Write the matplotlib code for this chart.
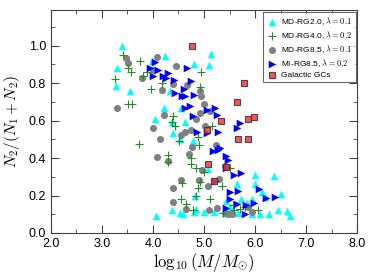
import matplotlib
matplotlib.use("Agg")
import matplotlib.pyplot as plt
from matplotlib.ticker import MultipleLocator, FormatStrFormatter

plt.rcParams["font.family"] = ["Liberation Sans", "DejaVu Sans"]
plt.rcParams["mathtext.fontset"] = "cm"

# MD-RG2.0 (cyan triangles)
rg2_x = [3.40, 3.30, 3.28, 3.55, 3.98, 4.23, 4.81, 5.14, 5.10, 4.33, 4.22, 4.04, 4.37, 4.39,
         4.63, 4.55, 4.79, 4.52, 5.07, 4.82, 4.85, 4.81, 4.99, 5.19, 4.38, 4.53, 4.58, 4.05,
         5.41, 5.65, 5.73, 5.84, 5.94, 6.00, 6.00, 6.13, 6.20, 6.37, 6.51, 6.44, 6.63, 6.68,
         6.10, 6.28, 5.94, 5.67, 5.51, 5.44]
rg2_y = [1.00, 0.88, 0.785, 0.76, 0.92, 0.945, 0.90, 0.955, 0.895, 0.76, 0.665, 0.61, 0.595, 0.535,
         0.59, 0.665, 0.49, 0.50, 0.34, 0.20, 0.13, 0.11, 0.11, 0.11, 0.12, 0.105, 0.10, 0.09,
         0.105, 0.26, 0.18, 0.16, 0.18, 0.31, 0.26, 0.22, 0.19, 0.305, 0.21, 0.12, 0.115, 0.09,
         0.10, 0.10, 0.10, 0.105, 0.14, 0.17]

# MD-RG4.0 (green plus)
rg4_x = [3.41, 3.25, 3.51, 3.57, 3.74, 3.81, 3.96, 4.17, 3.88, 3.51, 3.59, 3.72, 4.95, 4.92,
         4.40, 4.43, 4.37, 4.51, 4.29, 4.29, 4.75, 4.74, 4.85, 4.91, 4.89, 4.99, 4.92, 4.89,
         4.85, 4.56, 4.55, 4.64, 4.79, 5.12, 5.35, 5.51, 5.15, 5.59, 5.71, 5.80, 6.06, 5.37, 5.56]
rg4_y = [0.95, 0.82, 0.88, 0.86, 0.92, 0.84, 0.77, 0.80, 0.86, 0.69, 0.69, 0.475, 0.86, 0.78,
         0.625, 0.57, 0.59, 0.49, 0.415, 0.38, 0.40, 0.37, 0.345, 0.47, 0.515, 0.325, 0.27, 0.24,
         0.195, 0.265, 0.18, 0.155, 0.12, 0.18, 0.25, 0.345, 0.57, 0.125, 0.13, 0.14, 0.12, 0.105, 0.15]

# MD-RG8.5 (gray circles)
rg85_x = [3.47, 3.52, 3.29, 3.78, 4.07, 4.00, 4.45, 4.40, 4.17, 4.22, 4.00, 4.14, 4.07, 4.29,
          4.66, 4.92, 4.95, 4.99, 4.92, 4.85, 4.75, 4.62, 4.55, 4.77, 4.70, 5.02, 5.11, 5.24,
          5.41, 4.96, 4.90, 5.07, 5.30, 4.55, 4.40, 4.40, 4.65, 5.10, 5.25, 5.41, 5.54, 5.47,
          5.87, 5.94]
rg85_y = [0.935, 0.905, 0.665, 0.825, 0.94, 0.87, 0.89, 0.795, 0.765, 0.63, 0.56, 0.50, 0.405, 0.385,
          0.79, 0.76, 0.73, 0.69, 0.64, 0.61, 0.55, 0.54, 0.525, 0.46, 0.42, 0.57, 0.65, 0.47,
          0.36, 0.335, 0.285, 0.25, 0.29, 0.285, 0.24, 0.165, 0.13, 0.12, 0.135, 0.105, 0.10, 0.10,
          0.14, 0.11]

# MI-RG8.5 (blue right triangles)
mi_x = [4.04, 3.94, 4.00, 4.09, 4.20, 4.30, 4.26, 4.41, 4.67, 4.74, 4.44, 4.60, 4.56, 4.63,
        4.81, 4.62, 4.73, 5.05, 5.22, 5.25, 5.28, 4.86, 5.05, 4.78, 5.64, 5.71, 5.18, 5.28,
        5.31, 5.44, 5.46, 5.59, 5.72, 5.44, 5.22, 5.51, 5.66, 5.50, 5.65, 5.82, 5.98, 6.08,
        6.21, 6.39, 5.44, 5.80]
mi_y = [0.915, 0.88, 0.84, 0.87, 0.84, 0.855, 0.83, 0.815, 0.88, 0.81, 0.745, 0.77, 0.73, 0.73,
        0.735, 0.665, 0.68, 0.655, 0.665, 0.63, 0.54, 0.54, 0.535, 0.625, 0.56, 0.585, 0.435, 0.445,
        0.455, 0.41, 0.39, 0.31, 0.32, 0.345, 0.275, 0.22, 0.225, 0.18, 0.155, 0.15, 0.16, 0.235,
        0.185, 0.19, 0.135, 0.10]

# Galactic GCs (red squares)
gc_x = [4.76, 5.78, 5.64, 5.33, 5.87, 5.97, 5.05, 5.67, 5.87, 5.08, 5.44, 5.19]
gc_y = [1.00, 0.80, 0.70, 0.60, 0.61, 0.62, 0.55, 0.50, 0.50, 0.37, 0.35, 0.28]

labels = [r"MD-RG2.0, $\lambda=0.1$", r"MD-RG4.0, $\lambda=0.2$",
          r"MD-RG8.5, $\lambda=0.1$", r"MI-RG8.5, $\lambda=0.2$", "Galactic GCs"]

fig = plt.figure(figsize=(3.74, 2.80), dpi=100)
ax = fig.add_axes([0.136, 0.168, 0.819, 0.796])

ax.scatter(rg2_x, rg2_y, marker="^", s=30, color="#00ffff", linewidths=0, label=labels[0], zorder=2)
ax.scatter(rg4_x, rg4_y, marker="+", s=30, color="#228b22", linewidths=0.8, label=labels[1], zorder=3)
ax.scatter(rg85_x, rg85_y, marker="o", s=26, color="#808080", linewidths=0, label=labels[2], zorder=2)
ax.scatter(mi_x, mi_y, marker=">", s=30, color="#0000ff", linewidths=0, label=labels[3], zorder=3)
ax.scatter(gc_x, gc_y, marker="s", s=22, color="#ff3333", alpha=0.85, edgecolors="#333333",
           linewidths=0.8, label=labels[4], zorder=4)

ax.set_xlim(2.0, 8.0)
ax.set_ylim(0.0, 1.19)
ax.xaxis.set_major_locator(MultipleLocator(1.0))
ax.xaxis.set_minor_locator(MultipleLocator(0.5))
ax.yaxis.set_major_locator(MultipleLocator(0.2))
ax.yaxis.set_minor_locator(MultipleLocator(0.1))
ax.xaxis.set_major_formatter(FormatStrFormatter("%.1f"))
ax.yaxis.set_major_formatter(FormatStrFormatter("%.1f"))
ax.tick_params(which="both", direction="in", top=True, right=True, labelsize=9, color="#444444")
ax.tick_params(which="major", length=6)
ax.tick_params(which="minor", length=3)
for sp in ax.spines.values():
    sp.set_color("#444444")
    sp.set_linewidth(0.8)

ax.set_xlabel(r"$\log_{10}(M/M_{\odot})$", fontsize=12, labelpad=1)
ax.set_ylabel(r"$N_2/(N_1+N_2)$", fontsize=11, labelpad=5)

leg = ax.legend(loc="upper right", fontsize=6, frameon=True, fancybox=False, borderpad=0.4,
                labelspacing=0.25, handletextpad=0.3, handlelength=1.5, borderaxespad=0.2,
                scatterpoints=1)
leg.get_frame().set_edgecolor("#444444")
leg.get_frame().set_linewidth(0.8)

fig.savefig("out.png", dpi=100)
